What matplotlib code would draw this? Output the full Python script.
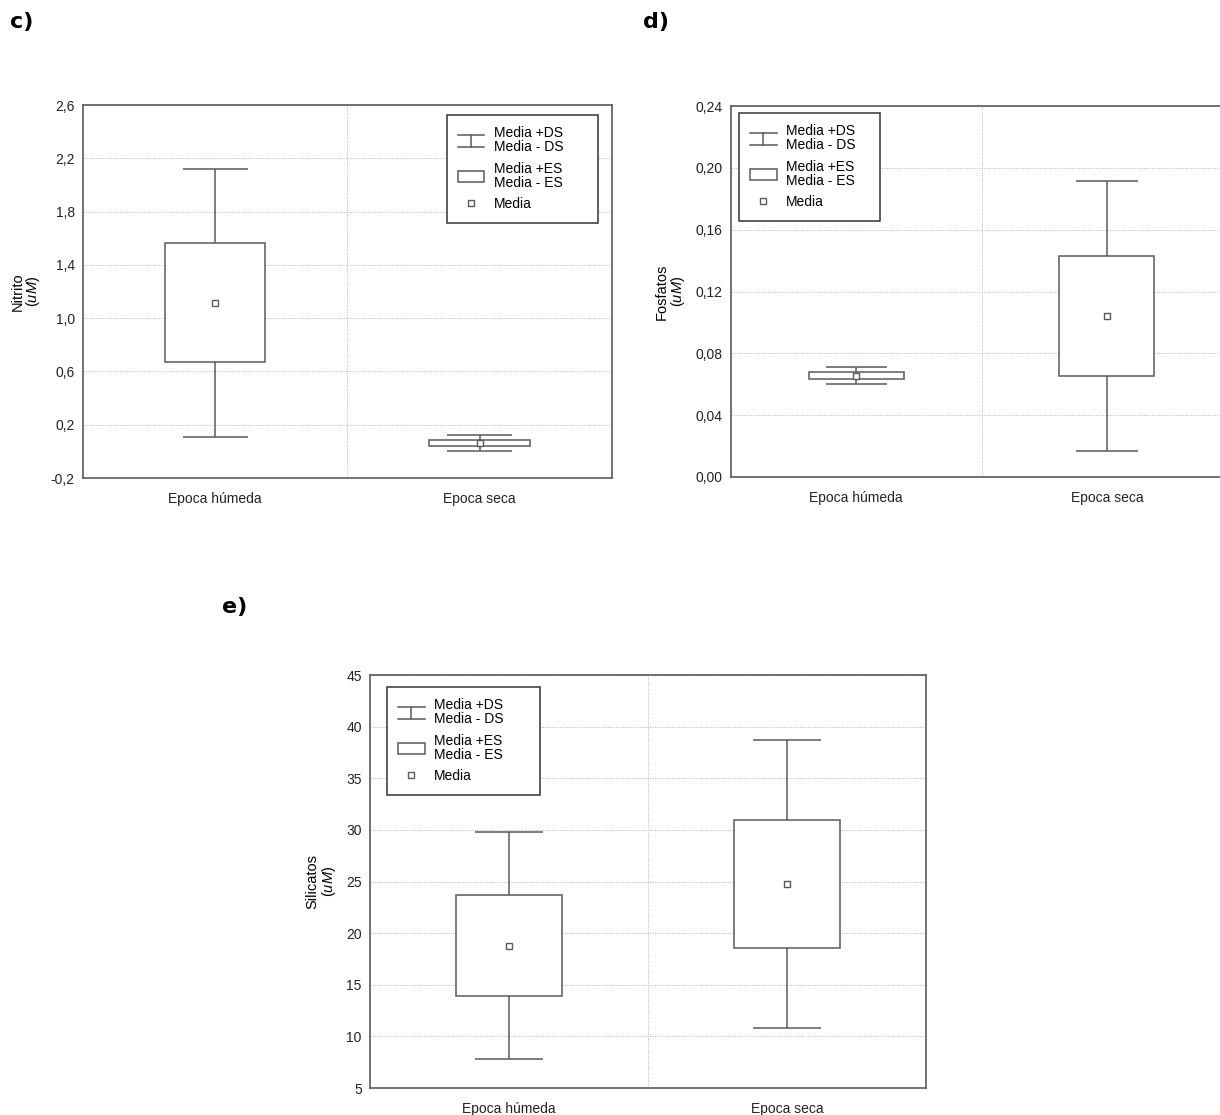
import numpy as np
import matplotlib
matplotlib.use('Agg')
import matplotlib.pyplot as plt
from matplotlib.lines import Line2D
from matplotlib.patches import Rectangle
from matplotlib.legend_handler import HandlerBase

plt.rcParams['font.family'] = ['Liberation Sans', 'DejaVu Sans']
plt.rcParams['mathtext.fontset'] = 'custom'
plt.rcParams['mathtext.it'] = 'Liberation Sans:italic'
plt.rcParams['mathtext.rm'] = 'Liberation Sans'

# datos
categorias = ['Epoca húmeda', 'Epoca seca']

nitrito_media = [1.115, 0.063]
nitrito_es = [0.446, 0.025]
nitrito_ds = [1.005, 0.058]

fosfatos_media = [0.0655, 0.1042]
fosfatos_es = [0.0024, 0.0386]
fosfatos_ds = [0.0054, 0.0872]

silicatos_media = [18.8, 24.8]
silicatos_es = [4.85, 6.2]
silicatos_ds = [11.0, 13.95]

gris = '#5a5a5a'
lw = 1.1


class HandlerDS(HandlerBase):
    def create_artists(self, legend, orig_handle, xdescent, ydescent,
                       width, height, fontsize, trans):
        x0, x1 = -xdescent, -xdescent + width
        y0, y1 = -ydescent, -ydescent + height
        xm = (x0 + x1) / 2
        lineas = [Line2D([x0, x1], [y1, y1]), Line2D([x0, x1], [y0, y0]),
                  Line2D([xm, xm], [y0, y1])]
        for l in lineas:
            l.set_color(gris)
            l.set_linewidth(lw)
            l.set_transform(trans)
        return lineas


def panel(ax, media, es, ds, yticks, fmt, ylabel, leg_box):
    x = np.arange(1, len(categorias) + 1)
    media = np.array(media)
    es = np.array(es)
    ds = np.array(ds)
    ax.vlines(x, media - ds, media + ds, color=gris, lw=lw, zorder=2)
    ax.hlines(media + ds, x - 0.1225, x + 0.1225, color=gris, lw=lw, zorder=2)
    ax.hlines(media - ds, x - 0.1225, x + 0.1225, color=gris, lw=lw, zorder=2)
    ax.bar(x, 2 * es, bottom=media - es, width=0.38, facecolor='white',
           edgecolor=gris, lw=lw, zorder=3)
    ax.plot(x, media, 's', ms=5, mfc='white', mec=gris, mew=1.0, zorder=4)

    ax.set_xlim(0.5, len(categorias) + 0.5)
    ax.set_ylim(yticks[0], yticks[-1])
    ax.set_xticks(x)
    ax.set_xticklabels(categorias)
    ax.set_yticks(yticks)
    ax.set_yticklabels([fmt.format(v).replace('.', ',') for v in yticks])
    ax.tick_params(axis='both', length=0, labelsize=10, colors='#222222')
    ax.tick_params(axis='x', pad=10)
    ax.tick_params(axis='y', pad=6)
    ax.yaxis.grid(True, ls=(0, (1, 1.5)), color='#b5b5b5', lw=0.7)
    ax.axvline(1.5, ls=(0, (1, 1.5)), color='#b5b5b5', lw=0.7)
    ax.set_axisbelow(True)
    for s in ax.spines.values():
        s.set_color(gris)
        s.set_linewidth(1.2)
    ax.set_ylabel(ylabel, fontsize=10.5, linespacing=1.0, labelpad=6)

    ds_handle = Line2D([], [])
    handles = [ds_handle, Rectangle((0, 0), 1, 1, fc='white', ec=gris, lw=lw),
               Line2D([], [], marker='s', ls='none', ms=5, mfc='white',
                      mec=gris, mew=1.0)]
    labels = ['Media +DS\nMedia - DS', 'Media +ES\nMedia - ES', 'Media']
    leg = ax.legend(handles, labels, loc='upper left', bbox_to_anchor=leg_box,
                    mode='expand', borderaxespad=0, fancybox=False,
                    framealpha=1, edgecolor='#333333', fontsize=10,
                    handlelength=1.9, handleheight=0.9, labelspacing=0.55,
                    borderpad=0.8, handletextpad=0.7,
                    handler_map={ds_handle: HandlerDS()})
    leg.get_frame().set_linewidth(1.1)
    for t in leg.get_texts():
        t.set_linespacing(1.0)


fig = plt.figure(figsize=(12.2, 11.15), dpi=100)

# cajas de leyenda en fraccion de ejes: (x0, y0, ancho, alto)
ax_c = fig.add_axes([0.0680, 0.5713, 0.4336, 0.3345])
panel(ax_c, nitrito_media, nitrito_es, nitrito_ds,
      np.round(np.arange(-0.2, 2.61, 0.4), 2), '{:.1f}',
      'Nitrito\n($\\it{uM}$)', ((447 - 83) / 529, 0, 151 / 529, 1 - 10 / 373))

ax_d = fig.add_axes([0.5992, 0.5722, 0.4107, 0.3327])
panel(ax_d, fosfatos_media, fosfatos_es, fosfatos_ds,
      np.round(np.arange(0, 0.241, 0.04), 2), '{:.2f}',
      'Fosfatos\n($\\it{uM}$)', (8 / 501, 0, 141 / 501, 1 - 7 / 371))

ax_e = fig.add_axes([0.3033, 0.0242, 0.4557, 0.3704])
panel(ax_e, silicatos_media, silicatos_es, silicatos_ds,
      np.arange(5, 46, 5), '{:.0f}',
      'Silicatos\n($\\it{uM}$)', (17 / 556, 0, 153 / 556, 1 - 12 / 413))

for xp, yp, letra in [(10, 22, 'c)'), (643, 22, 'd)'), (222, 607, 'e)')]:
    fig.text(xp / 1220, 1 - yp / 1115, letra, family='DejaVu Sans',
             weight='bold', fontsize=16, va='center', ha='left')

fig.savefig('out.png', dpi=100)
